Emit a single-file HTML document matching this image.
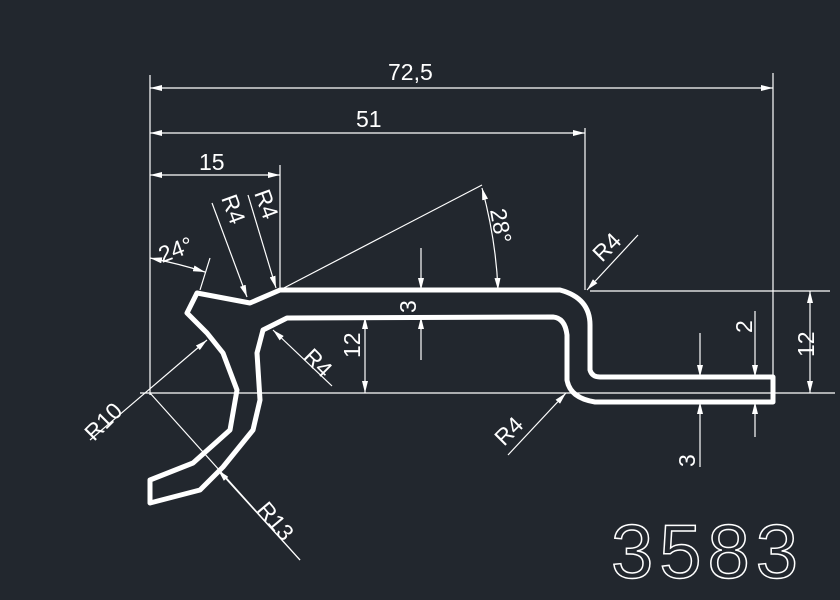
<!DOCTYPE html>
<html><head><style>
html,body{margin:0;padding:0;background:#22272e;}
svg{display:block}
text{font-family:"Liberation Sans",sans-serif;fill:#fff;font-size:23px}
</style></head><body>
<svg width="840" height="600" viewBox="0 0 840 600" xmlns="http://www.w3.org/2000/svg">
<defs>
<marker id="a" viewBox="0 0 12 6" refX="12" refY="3" markerWidth="12" markerHeight="6" markerUnits="userSpaceOnUse" orient="auto-start-reverse"><path d="M0,0 L12,3 L0,6 z" fill="#fff"/></marker>
</defs>
<rect width="840" height="600" fill="#22272e"/>
<g stroke="#fff" stroke-width="1.2" fill="none">
<line x1="150" y1="75" x2="150" y2="395"/>
<line x1="280" y1="165" x2="280" y2="290"/>
<line x1="585" y1="128" x2="585" y2="290"/>
<line x1="773" y1="73" x2="773" y2="376"/>
<line x1="140" y1="393" x2="835" y2="393"/>
<line x1="590" y1="291" x2="830" y2="291"/>
<line x1="150" y1="88" x2="773" y2="88" marker-start="url(#a)" marker-end="url(#a)"/>
<line x1="150" y1="133" x2="585" y2="133" marker-start="url(#a)" marker-end="url(#a)"/>
<line x1="150" y1="175" x2="280" y2="175" marker-start="url(#a)" marker-end="url(#a)"/>
<line x1="810" y1="291" x2="810" y2="393" marker-start="url(#a)" marker-end="url(#a)"/>
<line x1="365" y1="317" x2="365" y2="393" marker-start="url(#a)" marker-end="url(#a)"/>
<line x1="421" y1="248" x2="421" y2="290" marker-end="url(#a)"/>
<line x1="421" y1="360" x2="421" y2="317" marker-end="url(#a)"/>
<line x1="755" y1="311" x2="755" y2="377" marker-end="url(#a)"/>
<line x1="755" y1="437" x2="755" y2="402" marker-end="url(#a)"/>
<line x1="700" y1="333" x2="700" y2="377" marker-end="url(#a)"/>
<line x1="700" y1="467" x2="700" y2="402" marker-end="url(#a)"/>
<line x1="280" y1="290" x2="482" y2="185"/>
<path d="M482,188 Q496,240 498,290" marker-start="url(#a)" marker-end="url(#a)"/>
<line x1="200" y1="290" x2="210" y2="258"/>
<path d="M150,258 Q180,264 205,272" marker-start="url(#a)" marker-end="url(#a)"/>
<line x1="212" y1="203" x2="247" y2="297" marker-end="url(#a)"/>
<line x1="248" y1="195" x2="276" y2="288" marker-end="url(#a)"/>
<line x1="332" y1="386" x2="273" y2="330" marker-end="url(#a)"/>
<line x1="638" y1="235" x2="587" y2="290" marker-end="url(#a)"/>
<line x1="508" y1="455" x2="566" y2="393" marker-end="url(#a)"/>
<line x1="90" y1="440" x2="207" y2="340" marker-end="url(#a)"/>
<line x1="150" y1="393" x2="300" y2="560"/>
<line x1="300" y1="560" x2="218" y2="470" marker-end="url(#a)"/>
</g>
<g stroke="#fff" stroke-width="5" fill="none" stroke-linejoin="round">
<path d="M280,290 L560,290 Q590,298 590,325 L590,370 Q592,377 600,377 L773,377 L773,402 L595,402 Q570,398 567,380 L567,335 Q565,318 553,317 L287,318 L263,330 L257,353 L260,400 L253,430 L223,467 L200,490 L150,503 L150,480 L193,463 L230,430 L237,390 L223,353 L207,333 L187,313 L197,293 L250,303 Z"/>
</g>
<text x="388" y="80">72,5</text>
<text x="356" y="127">51</text>
<text x="199" y="170">15</text>
<text transform="translate(814,357) rotate(-90)">12</text>
<text transform="translate(360,358) rotate(-90)">12</text>
<text transform="translate(416,313) rotate(-90)">3</text>
<text transform="translate(752,333) rotate(-90)">2</text>
<text transform="translate(695,467) rotate(-90)">3</text>
<text transform="translate(490,210) rotate(80)">28°</text>
<text transform="translate(162,263) rotate(-20)">24°</text>
<text transform="translate(221,198) rotate(70)">R4</text>
<text transform="translate(254,193) rotate(70)">R4</text>
<text transform="translate(302,358) rotate(45)">R4</text>
<text transform="translate(602,263) rotate(-45)">R4</text>
<text transform="translate(504,447) rotate(-45)">R4</text>
<text transform="translate(94,442) rotate(-45)">R10</text>
<text transform="translate(256,510) rotate(50)">R13</text>
<text x="611" y="578" style="font-size:76px;fill:none;stroke:#fff;stroke-width:1.5;letter-spacing:6px">3583</text>
</svg>
</body></html>
